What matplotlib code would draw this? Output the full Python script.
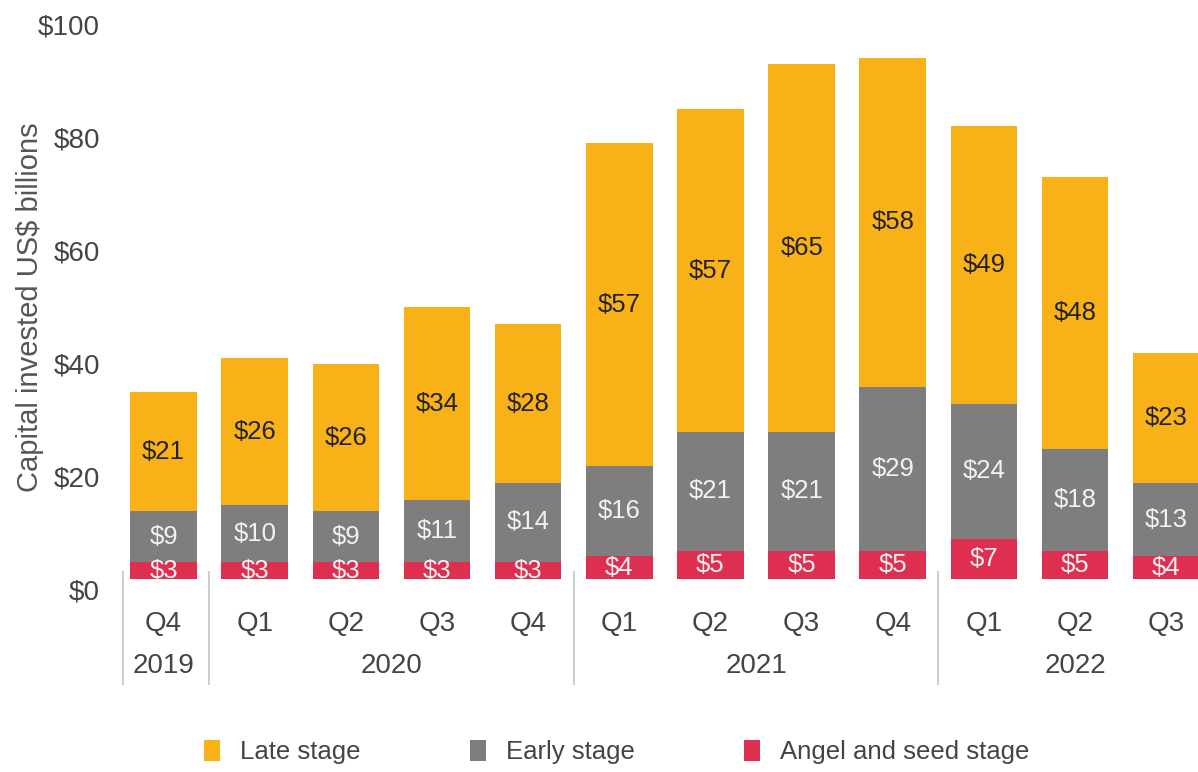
import matplotlib
matplotlib.use("Agg")
import matplotlib.pyplot as plt
import matplotlib.transforms as mtransforms
import numpy as np

plt.rcParams['font.family'] = ['Liberation Sans', 'DejaVu Sans']

# data
quarters = ["Q4", "Q1", "Q2", "Q3", "Q4", "Q1", "Q2", "Q3", "Q4", "Q1", "Q2", "Q3"]
years = ["2019", "2020", "2021", "2022"]
year_pos = [0, 2.5, 6.5, 10]
year_breaks = [-0.45, 0.5, 4.5, 8.5]
late = [21, 26, 26, 34, 28, 57, 57, 65, 58, 49, 48, 23]
early = [9, 10, 9, 11, 14, 16, 21, 21, 29, 24, 18, 13]
angel = [3, 3, 3, 3, 3, 4, 5, 5, 5, 7, 5, 4]

c_late = "#F8B217"
c_early = "#7E7E7E"
c_angel = "#DF2F50"
txt = "#444444"

fig = plt.figure(figsize=(11.98, 7.72), dpi=100)
# axes runs past the right edge, last bar is cut off like the original
ax = fig.add_axes([0.0985, 0.25, 0.913, 0.733])

x = np.arange(len(quarters))
w = 0.73
late = np.array(late)
early = np.array(early)
angel = np.array(angel)

ax.bar(x, angel, w, color=c_angel, label="Angel and seed stage")
ax.bar(x, early, w, bottom=angel, color=c_early, label="Early stage")
ax.bar(x, late, w, bottom=angel + early, color=c_late, label="Late stage")

# segment labels
fs = 18.5
for i in range(len(x)):
    ax.text(x[i], angel[i] / 2, "$%d" % angel[i], ha='center', va='center',
            fontsize=fs, color="#f2f2f2")
    ax.text(x[i], angel[i] + early[i] / 2, "$%d" % early[i], ha='center',
            va='center', fontsize=fs, color="#f2f2f2")
    ax.text(x[i], angel[i] + early[i] + late[i] / 2, "$%d" % late[i],
            ha='center', va='center', fontsize=fs, color="#222222")

ax.set_xlim(-0.5, 11.5)
ax.set_ylim(0, 100)
ax.set_yticks([0, 20, 40, 60, 80, 100])
ax.set_yticklabels(["$0", "$20", "$40", "$60", "$80", "$100"])
ax.tick_params(axis='y', length=0, pad=13, labelsize=20, labelcolor=txt)
# tick labels sit a little lower than their values in the original
off = mtransforms.ScaledTranslation(0, -0.11, fig.dpi_scale_trans)
for lab in ax.get_yticklabels():
    lab.set_transform(lab.get_transform() + off)

ax.set_xticks(x)
ax.set_xticklabels(quarters)
ax.tick_params(axis='x', length=0, pad=23, labelsize=20, labelcolor=txt)

for s in ax.spines.values():
    s.set_visible(False)

ax.set_ylabel("Capital invested US$ billions", fontsize=21, color="#555555")
ax.yaxis.set_label_coords(-0.068, 0.48)

# year row and the separators
trans = mtransforms.blended_transform_factory(ax.transData, fig.transFigure)
for yr, p in zip(years, year_pos):
    ax.text(p, 1 - 666 / 772, yr, transform=trans, ha='center', va='center',
            fontsize=20, color=txt)
for b in year_breaks:
    ax.plot([b, b], [1 - 572 / 772, 1 - 684 / 772], transform=trans,
            color="#c4c4c4", lw=1.2, clip_on=False)

handles, labels = ax.get_legend_handles_labels()
fig.legend(handles[::-1], labels[::-1], loc='center', ncol=3,
           bbox_to_anchor=(0.515, 1 - 752 / 772), frameon=False,
           fontsize=18.5, labelcolor=txt, handlelength=0.6, handleheight=0.9,
           handletextpad=0.8, columnspacing=4.25)

fig.savefig("out.png", dpi=100)
